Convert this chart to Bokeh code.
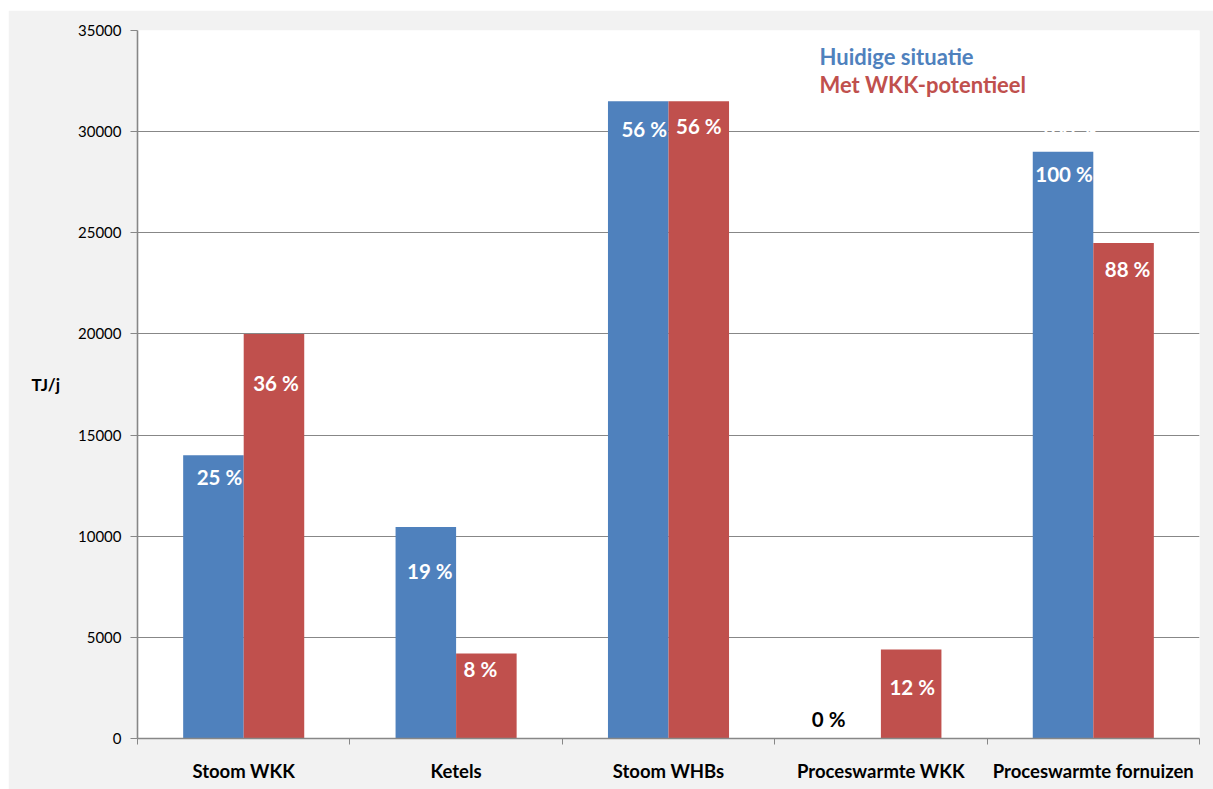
from bokeh.plotting import figure
from bokeh.models import ColumnDataSource, Range1d, FixedTicker, Label, Spacer
from bokeh.layouts import column, row
from bokeh.core.properties import value
from bokeh.embed import file_html
from bokeh.resources import INLINE

# Heat demand per category, TJ per year
categories = ["Stoom WKK", "Ketels", "Stoom WHBs", "Proceswarmte WKK", "Proceswarmte fornuizen"]
huidig = [14000, 10450, 31500, 0, 29000]
potentieel = [20000, 4200, 31500, 4400, 24500]
huidig_pct = ["25 %", "19 %", "56 %", "0 %", "100 %"]
potentieel_pct = ["36 %", "8 %", "56 %", "12 %", "88 %"]
y_ticks = [0, 5000, 10000, 15000, 20000, 25000, 30000, 35000]

BLUE = "#4F81BD"
RED = "#C0504D"
GRID = "#878787"
FONT = "Lato"

bar_w = 0.285
half = bar_w / 2
centers = [i + 0.5 for i in range(len(categories))]

# label placement (pixels, y positive = downward from bar top)
huidig_dy = [22, 44, 28, -20, 22]
huidig_dx = [6, 4, 6, -22, 1]
huidig_col = ["white", "white", "white", "black", "white"]
potentieel_dy = [49, 15, 25, 38, 26]
potentieel_dx = [2, -6, 0, 1, 4]

p = figure(width=1205, height=779, output_backend="svg", toolbar_location=None,
           x_range=Range1d(0, len(categories)), y_range=Range1d(0, 35000),
           min_border_left=129, min_border_right=14, min_border_top=20, min_border_bottom=51)
p.background_fill_color = "white"
p.border_fill_color = "#F2F2F2"
p.outline_line_color = None

src_b = ColumnDataSource(dict(x=[c - half for c in centers], top=huidig,
                              text=huidig_pct, dy=huidig_dy, dx=huidig_dx, col=huidig_col))
src_r = ColumnDataSource(dict(x=[c + half for c in centers], top=potentieel,
                              text=potentieel_pct, dy=potentieel_dy, dx=potentieel_dx))

p.vbar(x="x", top="top", width=bar_w, source=src_b, fill_color=BLUE, line_color=None)
p.vbar(x="x", top="top", width=bar_w, source=src_r, fill_color=RED, line_color=None)

p.text(x="x", y="top", text="text", source=src_b, x_offset="dx", y_offset="dy",
       text_color="col", text_font=value(FONT), text_font_style="bold",
       text_font_size="20.5px", text_align="center", text_baseline="middle")
p.text(x="x", y="top", text="text", source=src_r, x_offset="dx", y_offset="dy",
       text_color="white", text_font=value(FONT), text_font_style="bold",
       text_font_size="20.5px", text_align="center", text_baseline="middle")

# stray value label sitting above the last blue bar, white on white
ghost = ColumnDataSource(dict(x=[centers[4] - half], top=[huidig[4]], text=[huidig_pct[4]]))
p.text(x="x", y="top", text="text", source=ghost, x_offset=5, y_offset=-22,
       text_color="white", text_font=value(FONT), text_font_style="bold",
       text_font_size="20.5px", text_align="center", text_baseline="middle")

# axes
yax = p.yaxis[0]
yax.ticker = FixedTicker(ticks=y_ticks)
yax.axis_line_color = GRID
yax.axis_line_width = 1.6
yax.major_tick_line_color = GRID
yax.major_tick_out = 7
yax.major_tick_in = 0
yax.minor_tick_line_color = None
yax.major_label_standoff = 9
yax.major_label_text_font = FONT
yax.major_label_text_font_size = "15px"
yax.major_label_text_color = "#000000"
yax.axis_label = "TJ/j"
yax.axis_label_orientation = "horizontal"
yax.axis_label_standoff = 15
yax.axis_label_text_font = FONT
yax.axis_label_text_font_style = "bold"
yax.axis_label_text_font_size = "17px"
yax.axis_label_text_color = "#000000"

xax = p.xaxis[0]
xax.ticker = FixedTicker(ticks=centers, minor_ticks=list(range(len(categories) + 1)))
xax.major_label_overrides = {c: name for c, name in zip(centers, categories)}
xax.axis_line_color = GRID
xax.axis_line_width = 1.6
xax.major_tick_line_color = None
xax.major_tick_out = 0
xax.major_tick_in = 0
xax.minor_tick_line_color = GRID
xax.minor_tick_out = 6
xax.minor_tick_in = 0
xax.major_label_standoff = 15
xax.major_label_text_font = FONT
xax.major_label_text_font_style = "bold"
xax.major_label_text_font_size = "18.5px"
xax.major_label_text_color = "#000000"

p.xgrid.grid_line_color = None
p.ygrid.ticker = FixedTicker(ticks=y_ticks)
p.ygrid.grid_line_color = GRID
p.ygrid.grid_line_width = 1

# series key
p.add_layout(Label(x=3.211, y=33700, text="Huidige situatie", text_font=FONT,
                   text_font_style="bold", text_font_size="22px", text_color=BLUE,
                   text_align="left", text_baseline="middle"))
p.add_layout(Label(x=3.211, y=32350, text="Met WKK-potentieel", text_font=FONT,
                   text_font_style="bold", text_font_size="22px", text_color=RED,
                   text_align="left", text_baseline="middle"))

layout = column(Spacer(width=1213, height=10), row(Spacer(width=8, height=779), p))

open("out.html", "w").write(file_html(layout, INLINE))
